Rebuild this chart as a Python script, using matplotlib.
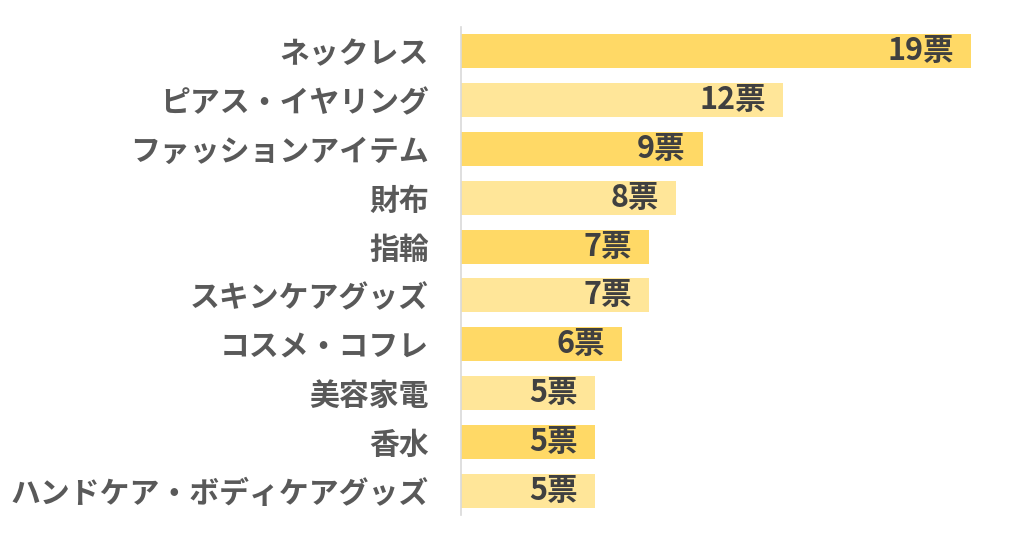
import matplotlib
matplotlib.use("Agg")
import matplotlib.pyplot as plt

plt.rcParams['font.family'] = ['Noto Sans CJK JP', 'DejaVu Sans']

categories = ["ネックレス", "ピアス・イヤリング", "ファッションアイテム", "財布", "指輪",
              "スキンケアグッズ", "コスメ・コフレ", "美容家電", "香水", "ハンドケア・ボディケアグッズ"]
votes = [19, 12, 9, 8, 7, 7, 6, 5, 5, 5]
value_labels = [f"{v}票" for v in votes]

dark = "#FFD966"
light = "#FFE699"
colors = [dark if i % 2 == 0 else light for i in range(len(votes))]

fig = plt.figure(figsize=(10.24, 5.42), dpi=100)
ax = fig.add_axes([461/1024, 1 - 515/542, 539/1024, 488/542])

y = list(range(len(categories)))
ax.barh(y, votes, height=0.7, color=colors)
ax.set_ylim(len(categories) - 0.5, -0.5)
ax.set_xlim(0, 539/26.84)

for yi, v, lab in zip(y, votes, value_labels):
    ax.annotate(lab, xy=(v, yi), xytext=(-17, 0), textcoords="offset pixels",
                ha="right", va="center", fontsize=22, fontweight="bold", color="#404040")

ax.set_yticks(y)
ax.set_yticklabels(categories, fontsize=21.5, fontweight="bold", color="#595959")
ax.tick_params(axis="y", length=0, pad=23)
ax.set_xticks([])
for s in ["top", "right", "bottom"]:
    ax.spines[s].set_visible(False)
ax.spines["left"].set_color("#D9D9D9")
ax.spines["left"].set_linewidth(1.2)

fig.savefig("out.png", dpi=100)
